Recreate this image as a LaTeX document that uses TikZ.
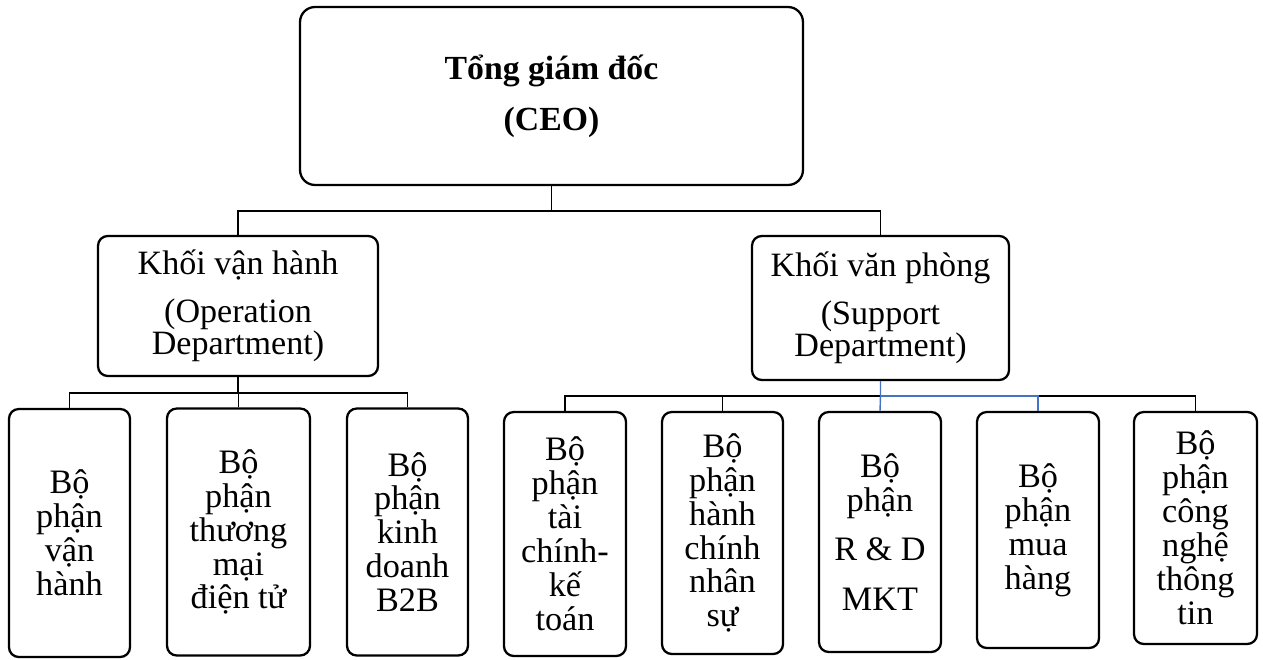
\documentclass[tikz,border=0pt]{standalone}
\usepackage{fontspec}
\setmainfont{Liberation Serif}
\usepackage{xcolor}
\usepackage{tikz}
\definecolor{linkblue}{RGB}{68,114,196}

\begin{document}
\begin{tikzpicture}[x=0.02cm, y=-0.02cm,
    box/.style={draw, line width=1.3pt, rounded corners=5.5pt, align=center, inner sep=0pt},
    unitbox/.style={box, font=\fontsize{19.5}{19.3}\selectfont},
    blockbox/.style={box, font=\fontsize{19.4}{18.2}\selectfont},
    link/.style={line width=0.8pt}]
    \useasboundingbox (0,0) rectangle (1263,659);

    % CEO
    \node[box, rounded corners=8.5pt, minimum width=10.06cm, minimum height=3.56cm,
          font=\fontsize{19.2}{22}\bfseries\selectfont] (ceo) at (551.5,96)
          {Tổng giám đốc\\[7pt](CEO)};

    % Two blocks
    \node[blockbox, minimum width=5.6cm, minimum height=2.8cm] (ops) at (238,306)
          {Khối vận hành\\[9pt](Operation\\Department)};
    \node[blockbox, minimum width=5.14cm, minimum height=2.88cm] (sup) at (880.5,308)
          {Khối văn phòng\\[9pt](Support\\Department)};

    % Operation units
    \node[unitbox, minimum width=2.42cm, minimum height=4.96cm] (opsA) at (69.5,533) {Bộ\\phận\\vận\\hành};
    \node[unitbox, minimum width=2.86cm, minimum height=4.94cm] (opsB) at (238.5,532) {Bộ\\phận\\thương\\mại\\điện tử};
    \node[unitbox, minimum width=2.42cm, minimum height=4.94cm] (opsC) at (407.5,532) {Bộ\\phận\\kinh\\doanh\\B2B};

    % Support units
    \node[unitbox, minimum width=2.44cm, minimum height=4.88cm] (supA) at (565,534) {Bộ\\phận\\tài\\chính-\\kế\\toán};
    \node[unitbox, minimum width=2.42cm, minimum height=4.84cm] (supB) at (722.5,533) {Bộ\\phận\\hành\\chính\\nhân\\sự};
    \node[unitbox, minimum width=2.44cm, minimum height=4.8cm] (supC) at (880,532) {Bộ\\phận\\[9pt]R \& D\\[9pt]MKT};
    \node[unitbox, minimum width=2.44cm, minimum height=4.72cm] (supD) at (1038,530) {Bộ\\phận\\mua\\hàng};
    \node[unitbox, minimum width=2.46cm, minimum height=4.64cm] (supE) at (1195.5,528) {Bộ\\phận\\công\\nghệ\\thông\\tin};

    % Bus levels
    \coordinate (busTop) at (0,211);
    \coordinate (busOps) at (0,393);
    \coordinate (busSup) at (0,396);

    % CEO to blocks
    \draw[link] (ceo.south) -- (ceo.south |- busTop);
    \draw[link] (ops.north) |- (busTop -| sup.north) -- (sup.north);

    % Operation tree
    \draw[link] (ops.south) -- (ops.south |- busOps);
    \draw[link] (opsA.north) |- (busOps -| opsC.north) -- (opsC.north);
    \draw[link] (opsB.north) -- (opsB.north |- busOps);

    % Support tree
    \draw[link] (supA.north) |- (busSup -| supE.north) -- (supE.north);
    \draw[link] (supB.north) -- (supB.north |- busSup);
    \draw[link, linkblue] (sup.south) -- (sup.south |- busSup) -- (supC.north);
    \draw[link, linkblue] (sup.south |- busSup) -| (supD.north);
\end{tikzpicture}
\end{document}
